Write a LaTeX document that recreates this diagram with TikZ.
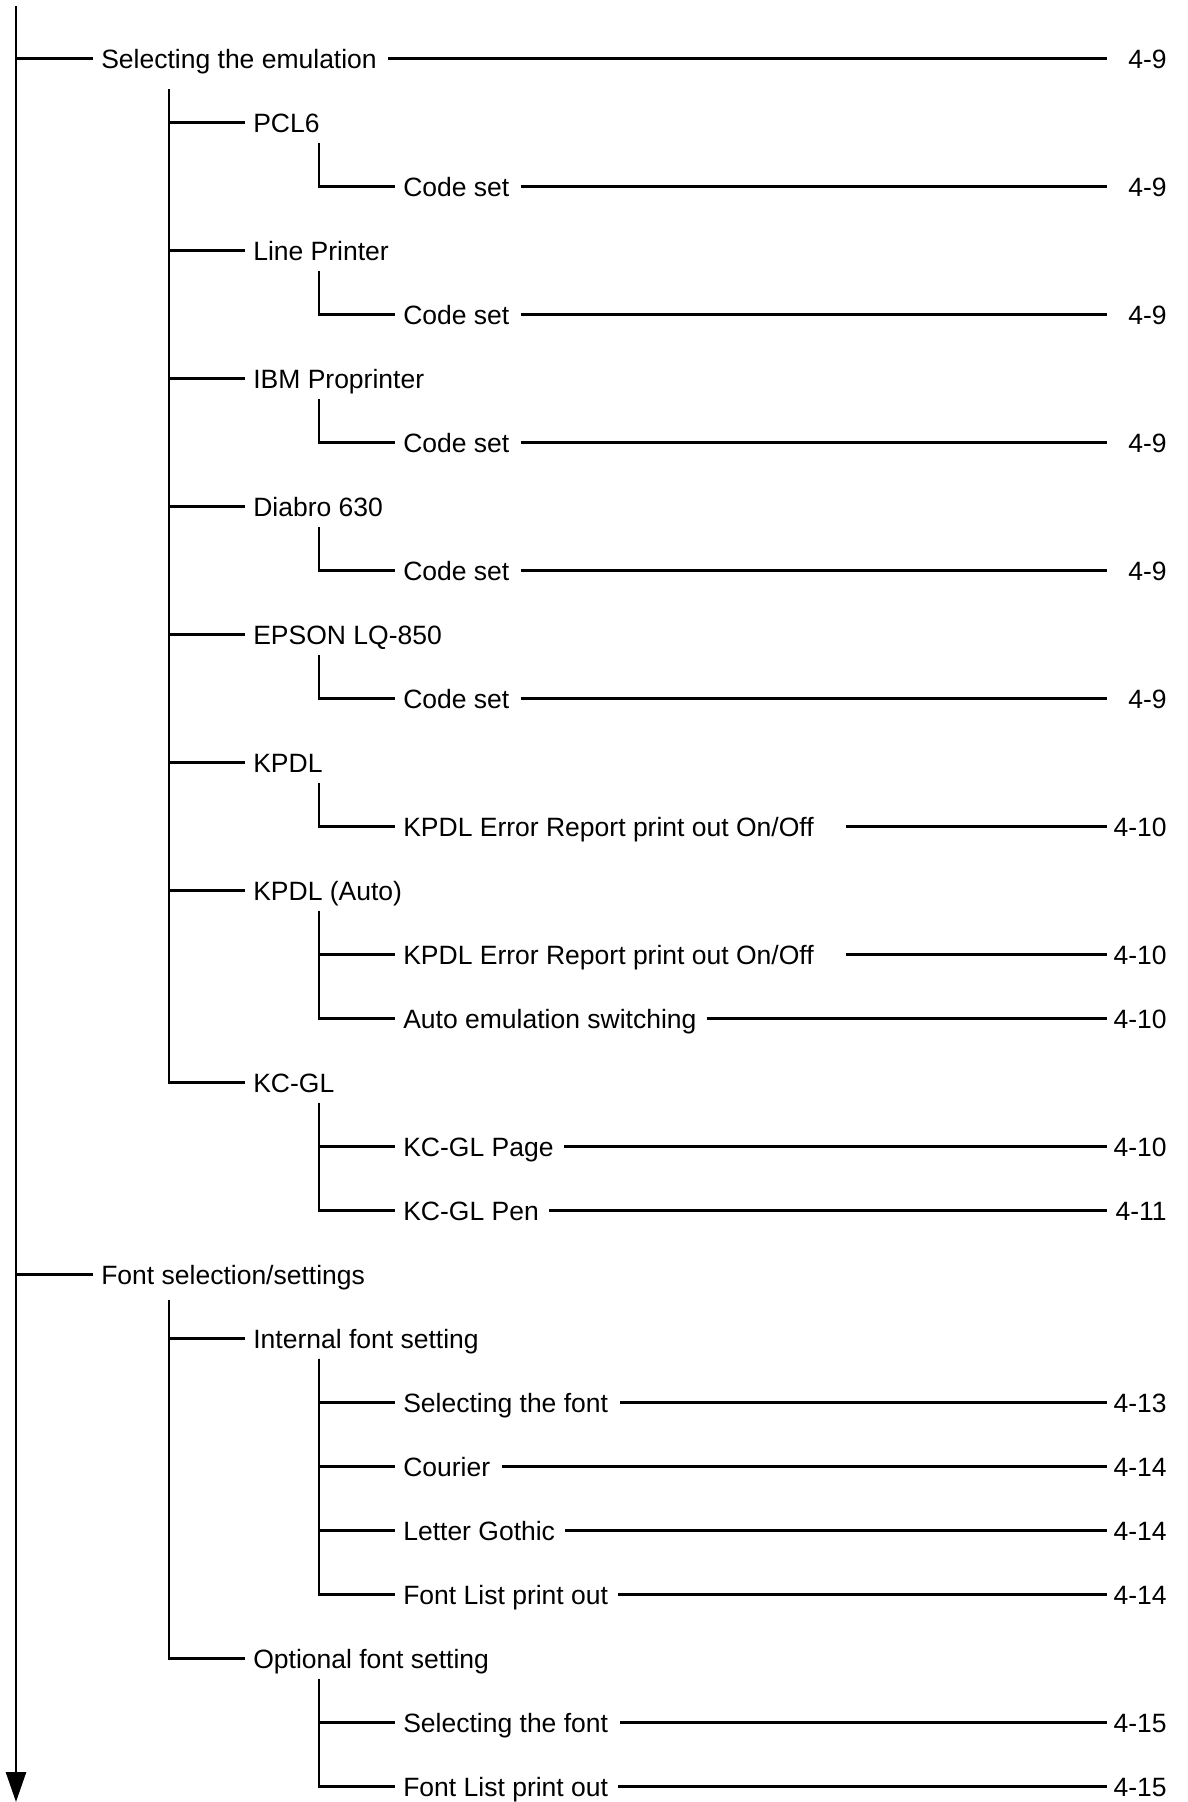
\documentclass[tikz,border=0pt]{standalone}
\usepackage{fontspec}
\setmainfont{Liberation Sans}
\usetikzlibrary{arrows.meta,calc}
\begin{document}
\begin{tikzpicture}[x=1pt,y=-1pt,line width=2.6pt,
  lbl/.style={anchor=west,inner sep=0pt,text height=19pt,text depth=0pt,font=\fontsize{26.5}{30}\selectfont},
  pg/.style={lbl,anchor=east}]
\useasboundingbox (0,0) rectangle (1188,1802);
% rails
\coordinate (rail) at (1107,0);
\coordinate (pr) at (1168,0);
\coordinate (r3) at (319,0);
% level 1
\node[lbl] (t0) at (100,58.6) {Selecting the emulation};
\node[lbl] (t19) at (100,1274.6) {Font selection/settings};
% level 2
\node[lbl] (t1) at (252,122.6) {PCL6};
\node[lbl] (t3) at (252,250.6) {Line Printer};
\node[lbl] (t5) at (252,378.6) {IBM Proprinter};
\node[lbl] (t7) at (252,506.6) {Diabro 630};
\node[lbl] (t9) at (252,634.6) {EPSON LQ-850};
\node[lbl] (t11) at (252,762.6) {KPDL};
\node[lbl] (t13) at (252,890.6) {KPDL (Auto)};
\node[lbl] (t16) at (252,1082.6) {KC-GL};
\node[lbl] (t20) at (252,1338.6) {Internal font setting};
\node[lbl] (t25) at (252,1658.6) {Optional font setting};
% level 3
\node[lbl] (t2) at (402,186.6) {Code set};
\node[lbl] (t4) at (402,314.6) {Code set};
\node[lbl] (t6) at (402,442.6) {Code set};
\node[lbl] (t8) at (402,570.6) {Code set};
\node[lbl] (t10) at (402,698.6) {Code set};
\node[lbl] (t12) at (402,826.6) {KPDL Error Report print out On/Off};
\node[lbl] (t14) at (402,954.6) {KPDL Error Report print out On/Off};
\node[lbl] (t15) at (402,1018.6) {Auto emulation switching};
\node[lbl] (t17) at (402,1146.6) {KC-GL Page};
\node[lbl] (t18) at (402,1210.6) {KC-GL Pen};
\node[lbl] (t21) at (402,1402.6) {Selecting the font};
\node[lbl] (t22) at (402,1466.6) {Courier};
\node[lbl] (t23) at (402,1530.6) {Letter Gothic};
\node[lbl] (t24) at (402,1594.6) {Font List print out};
\node[lbl] (t26) at (402,1722.6) {Selecting the font};
\node[lbl] (t27) at (402,1786.6) {Font List print out};
% page numbers and leaders
\foreach \r/\n/\g in {0/4-9/10,2/4-9/10,4/4-9/10,6/4-9/10,8/4-9/10,10/4-9/10,
  12/4-10/31,14/4-10/31,15/4-10/9,17/4-10/9,18/4-11/9,
  21/4-13/11,22/4-14/11,23/4-14/9,24/4-14/9,26/4-15/11,27/4-15/9}{
  \node[pg] (p\r) at (t\r.west -| pr) {\n};
  \draw ([xshift=\g pt]t\r.east) -- (t\r.east -| rail);
}
% main trunk
\coordinate (m0) at (16,6);
\coordinate (m1) at (16,1802);
\draw[-{Triangle[length=30pt,width=20pt]}] (m0) -- (m1);
\foreach \k in {0,19}{
  \draw (t\k.west -| m0) -- ([xshift=-7pt]t\k.west);
}
% level 2 trunks
\coordinate (a0) at (169,89);
\foreach \k in {1,3,5,7,9,11,13,16}{
  \draw (a0) |- ([xshift=-7pt]t\k.west);
}
\coordinate (b0) at (169,1300);
\foreach \k in {20,25}{
  \draw (b0) |- ([xshift=-7pt]t\k.west);
}
% level 3 trunks
\foreach \p/\kids in {1/{2},3/{4},5/{6},7/{8},9/{10},11/{12},13/{14,15},16/{17,18},20/{21,22,23,24},25/{26,27}}{
  \coordinate (c\p) at ($(t\p.west -| r3)+(0,20)$);
  \foreach \k in \kids {
    \draw (c\p) |- ([xshift=-7pt]t\k.west);
  }
}
\end{tikzpicture}
\end{document}
